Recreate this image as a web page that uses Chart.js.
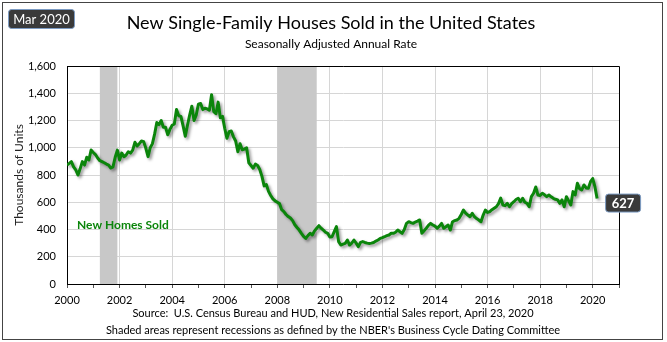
<!DOCTYPE html>
<html>
<head>
<meta charset="utf-8">
<script src="https://cdn.jsdelivr.net/npm/chart.js@4/dist/chart.umd.min.js"></script>
<style>
  html, body { margin: 0; padding: 0; background: #fff; }
  canvas { display: block; }
</style>
</head>
<body>
<canvas id="myChart" width="667" height="342"></canvas>
<script>
// monthly, Jan 2000 .. Mar 2020, thousands of units (SAAR)
const startYear = 2000
const sales = [
    873, 885, 898, 860, 837, 800, 845, 898, 873, 930, 910, 983, // 2000
    965, 950, 925, 905, 898, 890, 880, 873, 851, 860, 930, 983, // 2001
    910, 961, 934, 947, 971, 961, 983, 1040, 1013, 1030, 1050, 1045, // 2002
    996, 935, 1000, 1030, 1100, 1185, 1170, 1200, 1150, 1150, 1095, 1135, // 2003
    1165, 1175, 1280, 1235, 1230, 1160, 1085, 1165, 1240, 1305, 1200, 1240, // 2004
    1320, 1325, 1280, 1290, 1285, 1275, 1389, 1265, 1250, 1335, 1220, 1230, // 2005
    1143, 1070, 1118, 1123, 1080, 1050, 971, 1030, 985, 990, 1000, 890, // 2006
    870, 850, 880, 870, 840, 790, 720, 730, 680, 650, 625, 610, // 2007
    600, 590, 545, 531, 510, 495, 484, 465, 435, 415, 396, 372, // 2008
    350, 335, 355, 372, 360, 390, 409, 428, 410, 396, 380, 372, // 2009
    345, 347, 385, 421, 311, 286, 292, 298, 323, 286, 300, 323, // 2010
    300, 274, 305, 311, 305, 300, 298, 300, 305, 315, 323, 335, // 2011
    340, 347, 355, 360, 372, 372, 380, 396, 384, 372, 400, 445, // 2012
    457, 450, 445, 455, 462, 470, 372, 390, 409, 430, 445, 433, // 2013
    425, 409, 425, 445, 409, 420, 433, 396, 457, 465, 470, 482, // 2014
    510, 543, 520, 506, 494, 519, 494, 480, 470, 457, 506, 543, // 2015
    525, 531, 545, 556, 567, 590, 630, 580, 575, 592, 567, 590, // 2016
    604, 620, 629, 604, 629, 600, 592, 567, 641, 666, 712, 653, // 2017
    650, 666, 655, 641, 653, 640, 629, 622, 617, 592, 617, 567, // 2018
    641, 610, 580, 678, 653, 739, 700, 690, 727, 705, 702, 751, // 2019
    774, 714, 627 // 2020
]
const xTickYears = [2000, 2002, 2004, 2006, 2008, 2010, 2012, 2014, 2016, 2018, 2020]
const recessionStarts = [2001 + 3 / 12, 2008]
const recessionEnds = [2001 + 11 / 12, 2009 + 6 / 12]

const titleText = 'New Single-Family Houses Sold in the United States'
const subtitleText = 'Seasonally Adjusted Annual Rate'
const yAxisTitle = 'Thousands of Units'
const seriesLabel = 'New Homes Sold'
const periodLabel = 'Mar 2020'
const footerLines = [
    'Source:  U.S. Census Bureau and HUD, New Residential Sales report, April 23, 2020',
    'Shaded areas represent recessions as defined by the NBER\'s Business Cycle Dating Committee',
]

const FONT = 'Lato, "Open Sans", sans-serif'
const GREEN = '#0b850b'

function roundBox(ctx, x, y, w, h, r) {
    ctx.beginPath()
    ctx.moveTo(x + r, y)
    ctx.arcTo(x + w, y, x + w, y + h, r)
    ctx.arcTo(x + w, y + h, x, y + h, r)
    ctx.arcTo(x, y + h, x, y, r)
    ctx.arcTo(x, y, x + w, y, r)
    ctx.closePath()
}

function badge(ctx, text, x, y, w, h, bold) {
    roundBox(ctx, x + 0.5, y + 0.5, w, h, 3)
    ctx.fillStyle = '#3a3a3a'
    ctx.fill()
    ctx.strokeStyle = '#7d9cc4'
    ctx.lineWidth = 1
    ctx.stroke()
    ctx.fillStyle = '#fff'
    ctx.font = (bold ? 'bold ' : '') + '13px ' + FONT
    ctx.textAlign = 'center'
    ctx.textBaseline = 'middle'
    ctx.fillText(text, x + w / 2 + 0.5, y + h / 2 + 1)
}

const decorations = {
    id: 'decorations',
    beforeDatasetsDraw(chart) {
        const { ctx, chartArea: a, scales: { x } } = chart
        ctx.save()
        ctx.fillStyle = '#c8c8c8'
        recessionStarts.forEach((s, i) => {
            const x0 = x.getPixelForValue(s)
            const x1 = x.getPixelForValue(recessionEnds[i])
            ctx.fillRect(x0, a.top, x1 - x0, a.bottom - a.top)
        })
        ctx.restore()
    },
    beforeDatasetDraw(chart) {
        const ctx = chart.ctx
        ctx.save()
        ctx.shadowColor = 'rgba(0,0,0,0.4)'
        ctx.shadowBlur = 3
        ctx.shadowOffsetX = 2
        ctx.shadowOffsetY = 2
    },
    afterDatasetDraw(chart) {
        chart.ctx.restore()
    },
    afterDraw(chart) {
        const { ctx, chartArea: a, scales: { x, y } } = chart
        ctx.save()

        // plot frame (top and right)
        ctx.strokeStyle = '#000'
        ctx.lineWidth = 1
        ctx.beginPath()
        ctx.moveTo(a.left, a.top + 0.5)
        ctx.lineTo(a.right + 0.5, a.top + 0.5)
        ctx.lineTo(a.right + 0.5, a.bottom)
        ctx.stroke()

        // outer frame
        ctx.strokeStyle = '#444'
        ctx.strokeRect(2.5, 2.5, 660, 337)

        ctx.fillStyle = '#000'
        ctx.textAlign = 'center'
        ctx.textBaseline = 'alphabetic'
        ctx.font = '18px ' + FONT
        ctx.fillText(titleText, 331, 29)
        ctx.font = '12px ' + FONT
        ctx.fillText(subtitleText, 331, 48)

        ctx.font = '11px ' + FONT
        ctx.fillText(footerLines[0], 333, 317)
        ctx.fillText(footerLines[1], 333, 334)

        ctx.save()
        ctx.translate(19, (a.top + a.bottom) / 2)
        ctx.rotate(-Math.PI / 2)
        ctx.textBaseline = 'middle'
        ctx.fillStyle = '#222'
        ctx.font = '12px ' + FONT
        ctx.fillText(yAxisTitle, 0, 0)
        ctx.restore()

        ctx.fillStyle = GREEN
        ctx.textAlign = 'left'
        ctx.textBaseline = 'middle'
        ctx.font = 'bold 12px ' + FONT
        ctx.fillText(seriesLabel, 77, 225)

        badge(ctx, periodLabel, 8, 9, 66, 19, false)

        const last = sales.length - 1
        const lx = x.getPixelForValue(startYear + last / 12)
        const ly = y.getPixelForValue(sales[last])
        badge(ctx, String(sales[last]), lx + 8, ly - 5, 35, 18, true)

        ctx.restore()
    },
}

function render_chart() {
    const points = sales.map((v, i) => ({ x: startYear + i / 12, y: v }))

    const config = {
        type: 'line',
        data: {
            datasets: [
                {
                    label: seriesLabel,
                    data: points,
                    borderColor: GREEN,
                    borderWidth: 3,
                    pointRadius: 0,
                    tension: 0,
                    borderJoinStyle: 'round',
                },
            ],
        },
        options: {
            responsive: false,
            animation: false,
            layout: { padding: { top: 66, right: 48, left: 0, bottom: 0 } },
            plugins: { legend: { display: false }, tooltip: { enabled: false } },
            scales: {
                x: {
                    type: 'linear',
                    min: 2000,
                    max: 2021,
                    afterFit: (s) => { s.height = 58 },
                    border: { color: '#000', width: 1 },
                    grid: {
                        color: (c) => (c.tick && xTickYears.includes(c.tick.value) && c.tick.value !== 2000 ? '#d6d6d6' : 'rgba(0,0,0,0)'),
                        tickColor: '#555',
                        tickLength: 4,
                    },
                    ticks: {
                        stepSize: 1,
                        autoSkip: false,
                        maxRotation: 0,
                        padding: 6,
                        color: '#000',
                        font: { family: FONT, size: 11 },
                        callback: (v) => (xTickYears.includes(v) ? String(v) : ''),
                    },
                },
                y: {
                    min: 0,
                    max: 1600,
                    afterFit: (s) => { s.width = 67 },
                    border: { color: '#000', width: 1 },
                    grid: { color: '#d6d6d6', drawTicks: false },
                    ticks: {
                        stepSize: 200,
                        padding: 11,
                        color: '#000',
                        font: { family: FONT, size: 11 },
                        callback: (v) => v.toLocaleString('en-US'),
                    },
                },
            },
        },
        plugins: [decorations],
    }

    const myChart = new Chart(document.getElementById('myChart'), config)
}

document.addEventListener('DOMContentLoaded', render_chart)
</script>
</body>
</html>
